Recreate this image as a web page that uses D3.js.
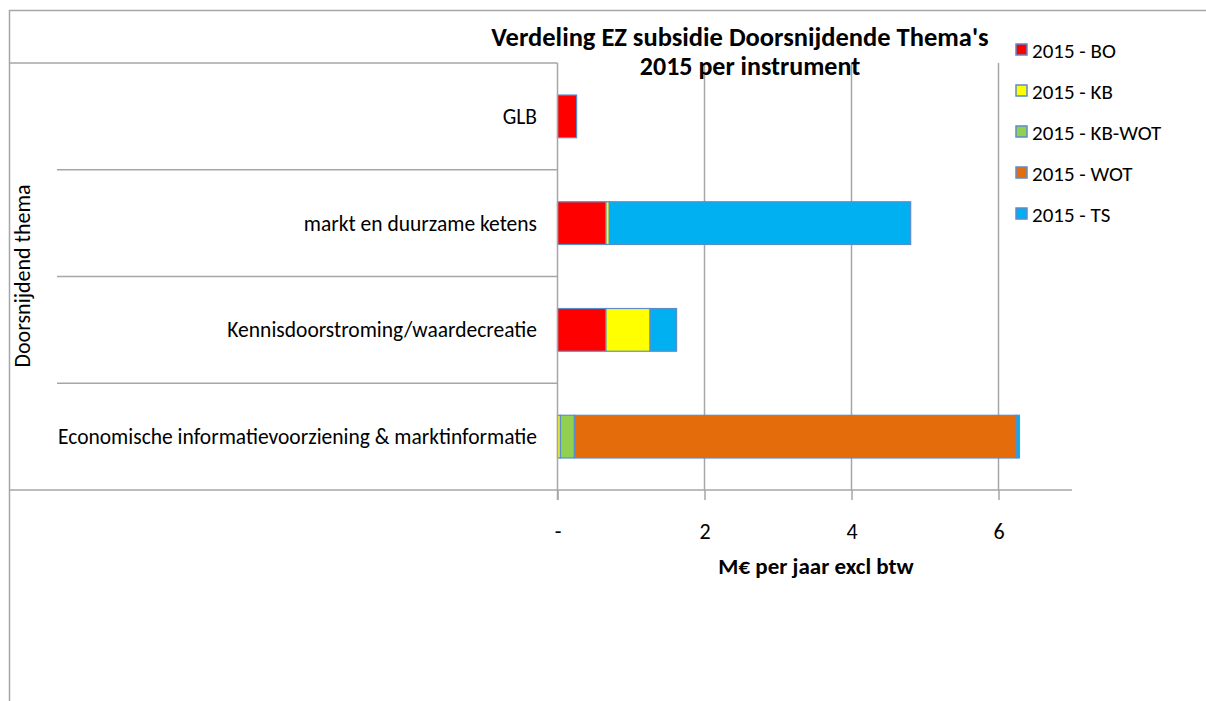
<!DOCTYPE html>
<html><head><meta charset="utf-8">
<script src="https://cdn.jsdelivr.net/npm/d3@7"></script>
<style>body{margin:0;background:#fff}svg{display:block}text{font-family:Carlito,Calibri,Lato,sans-serif}</style>
</head><body>
<svg id="c" width="1206" height="701"></svg>
<script>
const categories = ["GLB","markt en duurzame ketens","Kennisdoorstroming/waardecreatie","Economische informatievoorziening & marktinformatie"];
const seriesNames = ["2015 - BO","2015 - KB","2015 - KB-WOT","2015 - WOT","2015 - TS"];
const BO = [0.26, 0.66, 0.66, 0];
const KB = [0, 0.045, 0.60, 0.04];
const KBWOT = [0, 0, 0, 0.19];
const WOT = [0, 0, 0, 6.01];
const TS = [0, 4.10, 0.36, 0.045];
const colors = ["#ff0000","#ffff00","#92d050","#e46c0a","#00b0f0"];
const tickValues = [0,2,4,6];
const tickLabels = ["-","2","4","6"];

const svg = d3.select("#c");
const x = d3.scaleLinear().domain([0,7]).range([557.5,1072]);
const y = d3.scaleBand().domain(categories).range([63,490]).paddingInner(0.6).paddingOuter(0.3);
const yb = d3.scaleBand().domain(categories).range([63,490]);
const grey = "#a6a6a6";

// outer border
svg.append("path").attr("d","M9.5,701 V10.5 H1206").attr("fill","none").attr("stroke",grey).attr("stroke-width",1.5);

// gridlines
svg.append("g").selectAll("line").data(tickValues.slice(1)).join("line")
  .attr("x1",d=>x(d)).attr("x2",d=>x(d)).attr("y1",63).attr("y2",490)
  .attr("stroke",grey).attr("stroke-width",1.5);

// category separators
svg.append("line").attr("x1",9).attr("x2",x(0)).attr("y1",63).attr("y2",63).attr("stroke",grey).attr("stroke-width",1.5);
svg.append("g").selectAll("line").data(categories.slice(1)).join("line")
  .attr("x1",57).attr("x2",x(0)).attr("y1",d=>yb(d)).attr("y2",d=>yb(d))
  .attr("stroke",grey).attr("stroke-width",1.5);

// bars
const seriesArr = [BO,KB,KBWOT,WOT,TS];
const rows = categories.map((c,i)=>{const o={cat:c}; seriesNames.forEach((s,j)=>o[s]=seriesArr[j][i]); return o;});
const stack = d3.stack().keys(seriesNames)(rows);
svg.append("g").selectAll("g").data(stack).join("g").attr("fill",(d,i)=>colors[i])
  .selectAll("rect").data(d=>d.filter(v=>v[1]-v[0]>0)).join("rect")
  .attr("x",d=>x(d[0])).attr("width",d=>x(d[1])-x(d[0]))
  .attr("y",d=>y(d.data.cat)).attr("height",y.bandwidth())
  .attr("stroke","#5b8ccc").attr("stroke-width",1.2);

// axes
svg.append("line").attr("x1",9).attr("x2",1072).attr("y1",490).attr("y2",490).attr("stroke",grey).attr("stroke-width",1.5);
svg.append("line").attr("x1",x(0)).attr("x2",x(0)).attr("y1",63).attr("y2",500).attr("stroke",grey).attr("stroke-width",1.5);
const xa = svg.append("g").attr("transform","translate(0,490)")
  .call(d3.axisBottom(x).tickValues(tickValues).tickFormat((d,i)=>tickLabels[i]).tickSize(10).tickPadding(23));
xa.select(".domain").remove();
xa.selectAll(".tick line").attr("stroke",grey).attr("stroke-width",1.5);
xa.selectAll(".tick text").attr("font-size",22).attr("fill","#000").attr("font-family","Carlito,Calibri,Lato,sans-serif");

// category labels
svg.append("g").selectAll("text").data(categories).join("text")
  .attr("x",537).attr("y",d=>yb(d)+yb.bandwidth()/2).attr("dy","0.35em")
  .attr("text-anchor","end").attr("font-size",21.5).text(d=>d);

// y title
svg.append("text").attr("transform","translate(30,276) rotate(-90)").attr("text-anchor","middle")
  .attr("font-size",22).text("Doorsnijdend thema");

// title
svg.append("text").attr("x",740).attr("y",46).attr("text-anchor","middle").attr("font-size",26.5).attr("font-weight","bold").text("Verdeling EZ subsidie Doorsnijdende Thema's");
svg.append("text").attr("x",750).attr("y",75).attr("text-anchor","middle").attr("font-size",26).attr("font-weight","bold").text("2015 per instrument");

// x title
svg.append("text").attr("x",816).attr("y",574).attr("text-anchor","middle").attr("font-size",23).attr("font-weight","bold").text("M€ per jaar excl btw");

// legend
const lg = svg.append("g").selectAll("g").data(seriesNames).join("g")
  .attr("transform",(d,i)=>`translate(1016,${50+i*41})`);
lg.append("rect").attr("x",0).attr("y",-6).attr("width",11).attr("height",11)
  .attr("fill",(d,i)=>colors[i]).attr("stroke","#5b8ccc").attr("stroke-width",1.5);
lg.append("text").attr("x",16).attr("dy","0.36em").attr("font-size",21).text(d=>d);
</script>
</body></html>
